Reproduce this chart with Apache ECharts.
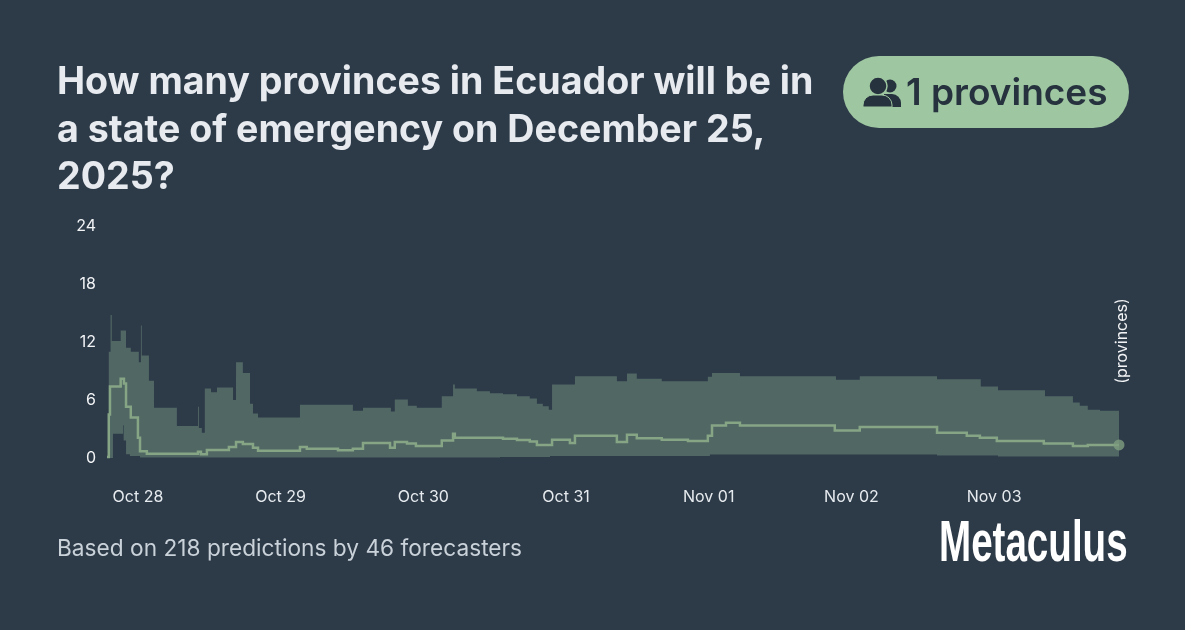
<!DOCTYPE html>
<html>
<head>
<meta charset="utf-8">
<style>
  html, body { margin: 0; padding: 0; background: #2d3a48; }
  #chart { width: 1185px; height: 630px; }
</style>
<script src="https://cdn.jsdelivr.net/npm/echarts@6/dist/echarts.min.js"></script>
</head>
<body>
<div id="chart"></div>
<script>
// hours counted from Oct 28 00:00, values in provinces
const upperHours = [-5.2, -5.05, -4.9, -4.6, -4.4, -2.9, -2, -1.2, 0.15, 0.5, 0.65, 1.85, 2.7, 6.55, 10.1, 10.25, 10.75, 11.25, 12.3, 13.3, 16, 16.5, 17.65, 18.85, 19.35, 20.2, 27.25, 36.15, 37.85, 42.55, 43.2, 45.4, 46.9, 51.1, 53, 53.3, 57, 59.2, 61.4, 63.75, 65.9, 67.1, 68.1, 69.1, 69.65, 73.5, 80.55, 82.25, 83.9, 88.1, 95.85, 96.55, 101.25, 117.4, 121.4, 134.4, 141.75, 144.65, 152.55, 157.25, 158.4, 159.75, 161.8, 165];
const upperValues = [0, 4.5, 11, 14.8, 12.1, 13.2, 11.4, 11, 9.9, 13.7, 10.6, 8, 5.2, 3.3, 5.3, 3.1, 2.6, 7.2, 6.8, 7.3, 6, 9.9, 8.8, 5.6, 4.6, 4.2, 5.5, 4.9, 5.2, 4.8, 6.05, 5.4, 5.2, 6.4, 7.6, 7.2, 6.9, 6.7, 6.6, 6.4, 6.15, 5.6, 5.35, 5, 7.6, 8.45, 7.95, 8.75, 8.2, 7.95, 8.4, 8.8, 8.45, 8.1, 8.45, 8.15, 7.4, 7, 6.4, 5.75, 5.4, 5, 4.9, 4.9];
const lowerHours = [-5.2, -4.2, -2.5, -2.4, -2, -1.35, 0.35, 60.9, 69.3, 96.2, 134.4, 144.65, 165];
const lowerValues = [0, 2.5, 3.4, 1.8, 0.4, 0.2, 0.05, 0.1, 0.2, 0.35, 0.25, 0.15, 0.15];
const medianHours = [-5.2, -4.9, -4.7, -2.9, -2.35, -2, -1.2, 0, 0.35, 1.5, 10.1, 10.6, 11.6, 15.3, 16.5, 17.65, 19.35, 20.2, 27.25, 28.4, 33.65, 36.15, 37.85, 42.4, 43.2, 45.25, 46.75, 51.1, 53, 53.3, 61.4, 63.75, 65.9, 67.1, 69.65, 72.65, 73.5, 80.55, 82.25, 83.9, 88.1, 92.5, 95.85, 96.55, 98.9, 101.25, 117.2, 121.4, 134.4, 139.4, 141.6, 144.45, 152.35, 157.25, 159.75, 165];
const medianValues = [0.1, 4.5, 7.4, 8.2, 7.7, 5.3, 4.2, 2.1, 0.7, 0.45, 0.65, 0.4, 0.83, 1.15, 1.65, 1.45, 1.05, 0.75, 1.15, 0.95, 0.8, 0.95, 1.55, 1.05, 1.65, 1.5, 1.25, 1.8, 2.5, 2.1, 2, 1.85, 1.7, 1.35, 1.9, 1.55, 2.3, 1.65, 2.4, 2.05, 1.9, 1.75, 2.3, 3.35, 3.65, 3.35, 2.85, 3.2, 2.6, 2.3, 2.1, 1.75, 1.5, 1.25, 1.35, 1.35];
const yTicks = { min: 0, max: 24, step: 6 };
const startHour = -5.2;
const endHour = 165;

const BG = '#2d3a48';
const GREEN = '#9ec6a1';
const DARK = '#26323d';
const FONT = 'Inter, "Noto Sans", sans-serif';

const day0 = new Date(2025, 9, 28).getTime();
const toTime = h => day0 + h * 3600 * 1000;

// step line: each value holds until the next hour.
// built by hand because the line series drops small vertical steps
function stepPoints(hours, values) {
  const pts = [];
  hours.forEach((h, i) => {
    pts.push([toTime(h), values[i]]);
    if (i < hours.length - 1) pts.push([toTime(hours[i + 1]), values[i]]);
  });
  return pts;
}

const upperLine = stepPoints(upperHours, upperValues);
const lowerLine = stepPoints(lowerHours, lowerValues);
const medianLine = stepPoints(medianHours, medianValues);
const lastPoint = [toTime(medianHours[medianHours.length - 1]), medianValues[medianValues.length - 1]];

const chart = echarts.init(document.getElementById('chart'), null, { renderer: 'canvas' });

chart.setOption({
  backgroundColor: BG,
  animation: false,
  grid: { left: 107, right: 66, top: 226, bottom: 172, containLabel: false },
  xAxis: {
    type: 'time',
    min: toTime(startHour),
    max: toTime(endHour),
    minInterval: 24 * 3600 * 1000,
    maxInterval: 24 * 3600 * 1000,
    axisLine: { show: false },
    axisTick: { show: false },
    splitLine: { show: false },
    minorSplitLine: { show: false },
    axisLabel: {
      color: '#e6ebef', fontSize: 16, fontFamily: FONT, margin: 31,
      showMinLabel: false, showMaxLabel: false, hideOverlap: false,
      formatter: '{MMM} {dd}'
    }
  },
  yAxis: {
    type: 'value',
    min: yTicks.min,
    max: yTicks.max,
    interval: yTicks.step,
    axisLine: { show: false },
    axisTick: { show: false },
    splitLine: { show: false },
    axisLabel: { color: '#f2f4f6', fontSize: 16, fontFamily: FONT, margin: 11, padding: [3, 0, 0, 0] }
  },
  series: [
    {
      type: 'custom', name: 'band', data: [[toTime(startHour), 0]], silent: true,
      clip: false,
      renderItem: (params, api) => ({
        type: 'polygon',
        shape: { points: upperLine.concat(lowerLine.slice().reverse()).map(p => api.coord(p)) },
        style: { fill: GREEN, opacity: 0.32 }
      })
    },
    {
      type: 'custom', name: 'median', data: [[toTime(startHour), 0]], silent: true,
      clip: false,
      renderItem: (params, api) => ({
        type: 'polyline',
        shape: { points: medianLine.map(p => api.coord(p)) },
        style: { fill: 'none', stroke: '#86a585', lineWidth: 2.5, lineJoin: 'miter' }
      })
    },
    {
      type: 'scatter', name: 'last', data: [lastPoint],
      symbol: 'circle', symbolSize: 11, itemStyle: { color: '#7e9d80' }, silent: true
    }
  ],
  graphic: [
    { type: 'text', x: 57, y: 59, style: { text: 'How many provinces in Ecuador will be in\na state of emergency on December 25,\n2025?', fill: '#e7ebf0', font: '700 37.6px ' + FONT, lineHeight: 47.5 } },
    { type: 'rect', shape: { x: 843, y: 56, width: 286, height: 72, r: 36 }, style: { fill: GREEN } },
    { type: 'circle', shape: { cx: 890, cy: 86, r: 6.5 }, style: { fill: DARK } },
    { type: 'rect', shape: { x: 884, y: 94, width: 17, height: 13, r: [0, 9, 0, 0] }, style: { fill: DARK } },
    { type: 'circle', shape: { cx: 878, cy: 86, r: 9 }, style: { fill: DARK, stroke: GREEN, lineWidth: 1.5 } },
    { type: 'rect', shape: { x: 863, y: 95, width: 29, height: 12, r: [10, 10, 0, 0] }, style: { fill: DARK, stroke: GREEN, lineWidth: 1 } },
    { type: 'text', x: 906, y: 94, style: { text: '1 provinces', fill: DARK, font: '600 37px ' + FONT, verticalAlign: 'middle' } },
    { type: 'text', x: 1122, y: 341, rotation: Math.PI / 2, style: { text: '(provinces)', fill: '#f2f4f6', font: '16px ' + FONT, align: 'center', verticalAlign: 'middle' } },
    { type: 'text', x: 57, y: 549, style: { text: 'Based on 218 predictions by 46 forecasters', fill: '#c9d1d9', font: '22.7px ' + FONT, verticalAlign: 'middle' } },
    { type: 'text', x: 939, y: 545, scaleX: 0.665, style: { text: 'Metaculus', fill: '#ffffff', font: 'bold 58px "Liberation Sans", sans-serif', verticalAlign: 'middle' } }
  ]
});
</script>
</body>
</html>
